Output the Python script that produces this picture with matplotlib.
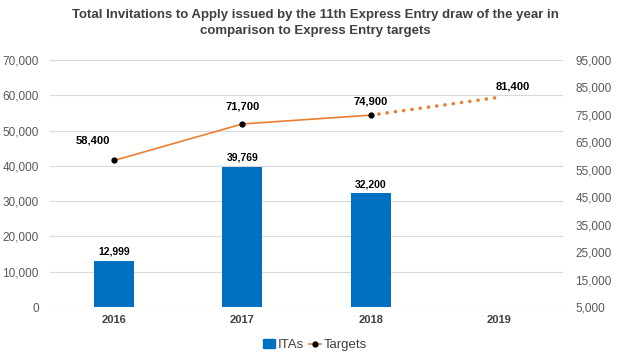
import matplotlib
matplotlib.use("Agg")
import matplotlib.pyplot as plt
from matplotlib.lines import Line2D
from matplotlib.patches import Patch

years = ["2016", "2017", "2018", "2019"]
itas = [12999, 39769, 32200, None]
targets = [58400, 71700, 74900, 81400]
left_ticks = [0, 10000, 20000, 30000, 40000, 50000, 60000, 70000]
right_ticks = [5000, 15000, 25000, 35000, 45000, 55000, 65000, 75000, 85000, 95000]

plt.rcParams['font.family'] = ['Liberation Sans', 'DejaVu Sans']
BLUE = "#0070C0"
ORANGE = "#ED7D31"
GRID = "#D9D9D9"
TXT = "#595959"

fig = plt.figure(figsize=(6.3, 3.58), dpi=100)
ax = fig.add_axes([50/630, 1-307/358, 513/630, 247/358])
x = list(range(len(years)))

bx = [i for i, v in zip(x, itas) if v is not None]
bv = [v for v in itas if v is not None]
ax.bar(bx, bv, width=0.31, color=BLUE, zorder=3)
for i, v in zip(bx, bv):
    ax.annotate(f"{v:,}", (i, v), xytext=(0, 3), textcoords="offset points",
                ha="center", va="bottom", fontsize=7.5, fontweight="bold", color="black")

ax.set_xlim(-0.5, 3.5)
ax.set_ylim(0, 70000)
ax.set_yticks(left_ticks)
ax.set_yticklabels([f"{t:,}" for t in left_ticks])
ax.set_xticks(x)
ax.set_xticklabels(years, fontweight="bold", color="#404040", fontsize=8)
ax.grid(axis="y", color=GRID, linewidth=0.8, zorder=0)
ax.set_axisbelow(True)
for s in ax.spines.values():
    s.set_visible(False)
ax.tick_params(axis="both", length=0, labelsize=8.5, colors=TXT, pad=8)
ax.tick_params(axis="x", labelcolor="#404040", labelsize=8, pad=6)

ax2 = ax.twinx()
ax2.set_ylim(5000, 95000)
ax2.set_yticks(right_ticks)
ax2.set_yticklabels([f"{t:,}" for t in right_ticks])
for s in ax2.spines.values():
    s.set_visible(False)
ax2.tick_params(axis="y", length=0, labelsize=8.5, colors=TXT, pad=9)

ax2.plot(x[:3], targets[:3], color=ORANGE, linewidth=1.2, zorder=4)
ax2.plot(x[2:], targets[2:], color=ORANGE, linewidth=2.6, linestyle=(0, (0.01, 2.3)),
         dash_capstyle="round", zorder=4)
ax2.plot(x[:3], targets[:3], linestyle="none", marker="o", markersize=3.5,
         color="black", zorder=5)
offsets = [(-15, 11), (0, 9), (0, 6), (10, 4)]
for i, (v, off) in enumerate(zip(targets, offsets)):
    ax2.annotate(f"{v:,}", (i, v), xytext=off, textcoords="offset points",
                 ha="center", va="bottom", fontsize=8, fontweight="bold", color="black")

fig.suptitle("Total Invitations to Apply issued by the 11th Express Entry draw of the year in\ncomparison to Express Entry targets",
             x=0.5, y=0.975, fontsize=9.5, fontweight="bold", color="#404040", linespacing=1.45)

handles = [Patch(facecolor=BLUE, edgecolor=BLUE),
           Line2D([0], [0], color=ORANGE, marker="o", markerfacecolor="black",
                  markeredgecolor="black", markersize=3.5, linewidth=1.2)]
fig.legend(handles, ["ITAs", "Targets"], loc="center", bbox_to_anchor=(0.5, 1-345/358),
           ncol=2, frameon=False, fontsize=9.5, handlelength=0.9, handletextpad=0.2,
           columnspacing=0.4, labelcolor="#404040", handleheight=0.7)

fig.savefig("out.png", dpi=100)
